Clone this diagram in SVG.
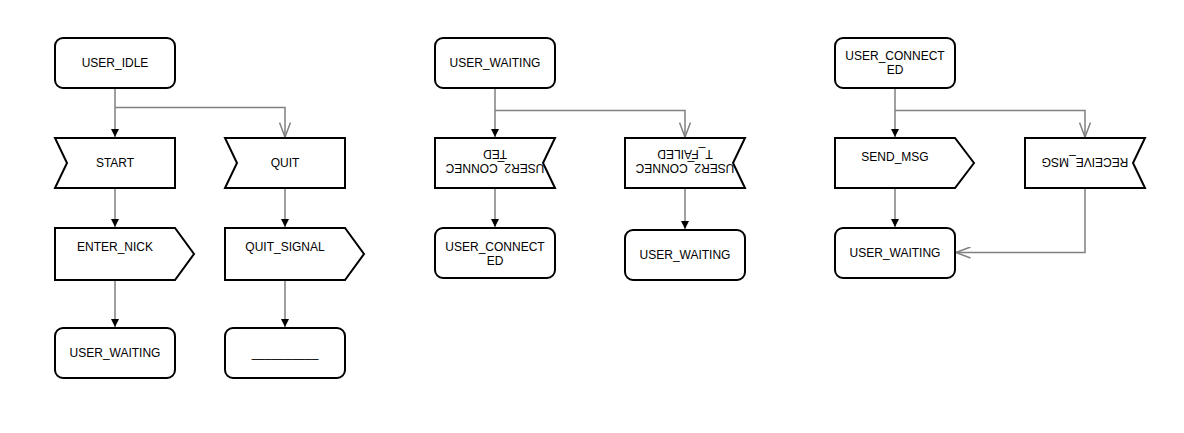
<svg xmlns="http://www.w3.org/2000/svg" width="1184" height="433" viewBox="0 0 1184 433">
<style>
.box{fill:#fff;stroke:#000;stroke-width:2}
.t{font-family:"Liberation Sans",Arial,sans-serif;font-size:12px;fill:#000;text-anchor:middle}
.c{fill:none;stroke:#808080;stroke-width:1.5}
.f{marker-end:url(#fa)}
.o{marker-end:url(#oa)}
</style>
<defs>
<marker id="fa" viewBox="0 0 8 8" markerWidth="8" markerHeight="8" refX="8" refY="4" orient="auto" markerUnits="userSpaceOnUse">
<path d="M0,0 L8,4 L0,8 Z" fill="#000"/>
</marker>
<marker id="oa" viewBox="0 0 16 12" markerWidth="16" markerHeight="12" refX="15" refY="6" orient="auto" markerUnits="userSpaceOnUse">
<path d="M0.5,0.5 L15,6 L0.5,11.5" fill="none" stroke="#808080" stroke-width="1.5"/>
</marker>
</defs>
<rect width="1184" height="433" fill="#fff"/>
<g id="connectors">
<path class="c f" d="M115 88 V137"/>
<path class="c o" d="M115 107.5 H285 V137"/>
<path class="c f" d="M115 188 V227"/>
<path class="c f" d="M285 188 V227"/>
<path class="c f" d="M115 281 V327"/>
<path class="c f" d="M285 281 V327"/>
<path class="c f" d="M495 88 V137"/>
<path class="c o" d="M495 110.5 H685 V137"/>
<path class="c f" d="M495 188 V227"/>
<path class="c f" d="M685 188 V229"/>
<path class="c f" d="M895 88 V137"/>
<path class="c o" d="M895 110.5 H1085 V137"/>
<path class="c f" d="M895 189 V227"/>
<path class="c o" d="M1085 188 V252.5 H956"/>
</g>
<g id="user_idle">
<rect class="box" x="55" y="38" width="120" height="50" rx="8"/>
<text class="t" x="115" y="67">USER_IDLE</text>
</g>
<g id="start">
<path class="box" d="M55 138 H175 V188 H55 L67 163 Z"/>
<text class="t" x="115" y="167">START</text>
</g>
<g id="quit">
<path class="box" d="M225 138 H345 V188 H225 L237 163 Z"/>
<text class="t" x="285" y="167">QUIT</text>
</g>
<g id="enter_nick">
<path class="box" d="M55 228 H175 L194 254 L175 280 H55 Z"/>
<text class="t" x="115" y="251">ENTER_NICK</text>
</g>
<g id="quit_signal">
<path class="box" d="M225 228 H345 L364 254 L345 280 H225 Z"/>
<text class="t" x="285" y="251">QUIT_SIGNAL</text>
</g>
<g id="user_waiting_1">
<rect class="box" x="55" y="328" width="120" height="50" rx="8"/>
<text class="t" x="115" y="357">USER_WAITING</text>
</g>
<g id="quit_end">
<rect class="box" x="225" y="328" width="120" height="50" rx="8"/>
<text class="t" x="285" y="357">__________</text>
</g>
<g id="user_waiting_2">
<rect class="box" x="435" y="38" width="120" height="50" rx="8"/>
<text class="t" x="495" y="67">USER_WAITING</text>
</g>
<g id="user2_connected">
<path class="box" d="M435 138 H555 L543 163 L555 188 H435 Z"/>
<g transform="rotate(180 495 163)">
<text class="t" x="495" y="162">USER2_CONNEC</text>
<text class="t" x="495" y="176">TED</text>
</g>
</g>
<g id="user2_connect_failed">
<path class="box" d="M625 138 H745 L733 163 L745 188 H625 Z"/>
<g transform="rotate(180 685 163)">
<text class="t" x="685" y="162">USER2_CONNEC</text>
<text class="t" x="685" y="176">T_FAILED</text>
</g>
</g>
<g id="user_connected_2">
<rect class="box" x="435" y="228" width="120" height="50" rx="8"/>
<text class="t" x="495" y="250.5">USER_CONNECT</text>
<text class="t" x="495" y="264.5">ED</text>
</g>
<g id="user_waiting_3">
<rect class="box" x="625" y="230" width="120" height="50" rx="8"/>
<text class="t" x="685" y="259">USER_WAITING</text>
</g>
<g id="user_connected_3">
<rect class="box" x="835" y="38" width="120" height="50" rx="8"/>
<text class="t" x="895" y="60">USER_CONNECT</text>
<text class="t" x="895" y="74">ED</text>
</g>
<g id="send_msg">
<path class="box" d="M835 138 H955 L974 163 L955 188 H835 Z"/>
<text class="t" x="895" y="161">SEND_MSG</text>
</g>
<g id="receive_msg">
<path class="box" d="M1025 138 H1145 L1133 163 L1145 188 H1025 Z"/>
<g transform="rotate(180 1085 163)">
<text class="t" x="1085" y="168">RECEIVE_MSG</text>
</g>
</g>
<g id="user_waiting_4">
<rect class="box" x="835" y="228" width="120" height="50" rx="8"/>
<text class="t" x="895" y="257">USER_WAITING</text>
</g>
</svg>
